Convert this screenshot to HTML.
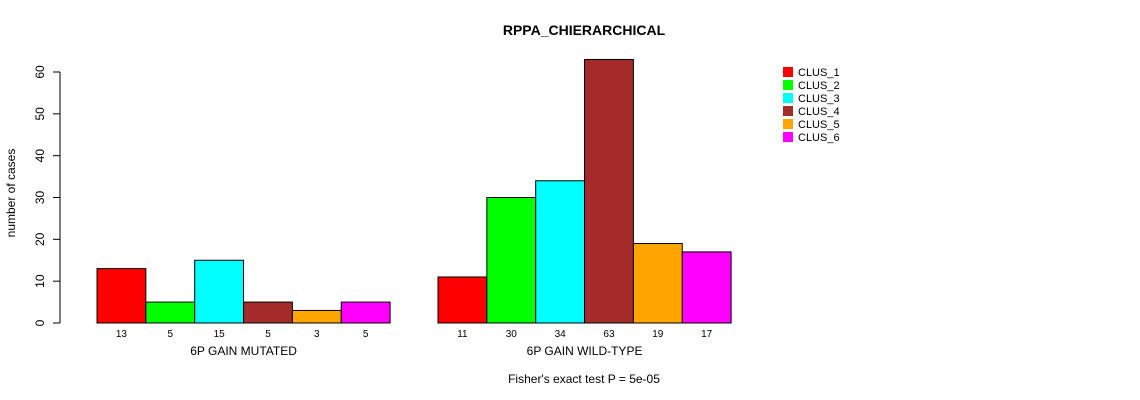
<!DOCTYPE html>
<html><head><meta charset="utf-8"><style>
body{margin:0;background:#fff;}
svg{display:block;font-family:"Liberation Sans",Arial,sans-serif;}
</style></head><body>
<svg id="chart" width="1140" height="400" xmlns="http://www.w3.org/2000/svg">
<rect width="1140" height="400" fill="#fff"/>
<text x="584" y="35" text-anchor="middle" font-size="14" font-weight="bold">RPPA_CHIERARCHICAL</text>
<text transform="translate(15,193) rotate(-90)" text-anchor="middle" font-size="12">number of cases</text>
<text x="584" y="383" text-anchor="middle" font-size="12">Fisher's exact test P = 5e-05</text>
<g id="axis"></g><g id="bars"></g><g id="legend"></g>
</svg>
<script>
const groups = ["6P GAIN MUTATED", "6P GAIN WILD-TYPE"];
const clusters = ["CLUS_1","CLUS_2","CLUS_3","CLUS_4","CLUS_5","CLUS_6"];
const colors = ["#ff0000","#00ff00","#00ffff","#a52a2a","#ffa500","#ff00ff"];
const mutated = [13,5,15,5,3,5];
const wildtype = [11,30,34,63,19,17];
const yTicks = [0,10,20,30,40,50,60];
const series = [mutated, wildtype];
const NS="http://www.w3.org/2000/svg";
function y(v){return 323 - v*(251/60);}
const groupStart=[97,438], bw=48.85;
function x(g,i){return groupStart[g]+i*bw;}
function mk(tag,attrs,parent){const e=document.createElementNS(NS,tag);for(const k in attrs)e.setAttribute(k,attrs[k]);parent.appendChild(e);return e;}
const ax=document.getElementById('axis');
let l=mk('line',{x1:60,x2:60,y1:y(0),y2:y(60),stroke:'#000'},ax);


yTicks.forEach(t=>{
  const tk=mk('line',{x1:53,x2:60,y1:y(t),y2:y(t),stroke:'#000'},ax);
  
  
  const tx=mk('text',{transform:`translate(44,${y(t)}) rotate(-90)`,'text-anchor':'middle','font-size':12},ax);
  tx.textContent=t;
  
  
});
const bg=document.getElementById('bars');
series.forEach((vals,g)=>{
  vals.forEach((v,i)=>{
    const r=mk('rect',{x:x(g,i),y:y(v),width:bw,height:y(0)-y(v),fill:colors[i],stroke:'#000','stroke-width':1},bg);
    
    
    const t=mk('text',{x:x(g,i)+bw/2,y:337,'text-anchor':'middle','font-size':10},bg);
    t.textContent=v;
    
    
  });
  const gl=mk('text',{x:groupStart[g]+bw*3,y:355,'text-anchor':'middle','font-size':12},bg);
  gl.textContent=groups[g];
  
  
});
const lg=document.getElementById('legend');
clusters.forEach((c,i)=>{
  const r=mk('rect',{x:783,y:67+i*13,width:10,height:10,fill:colors[i]},lg);
  
  
  const t=mk('text',{x:798,y:76+i*13,'font-size':11},lg);
  t.textContent=c;
  
  
});
</script>
</body></html>
